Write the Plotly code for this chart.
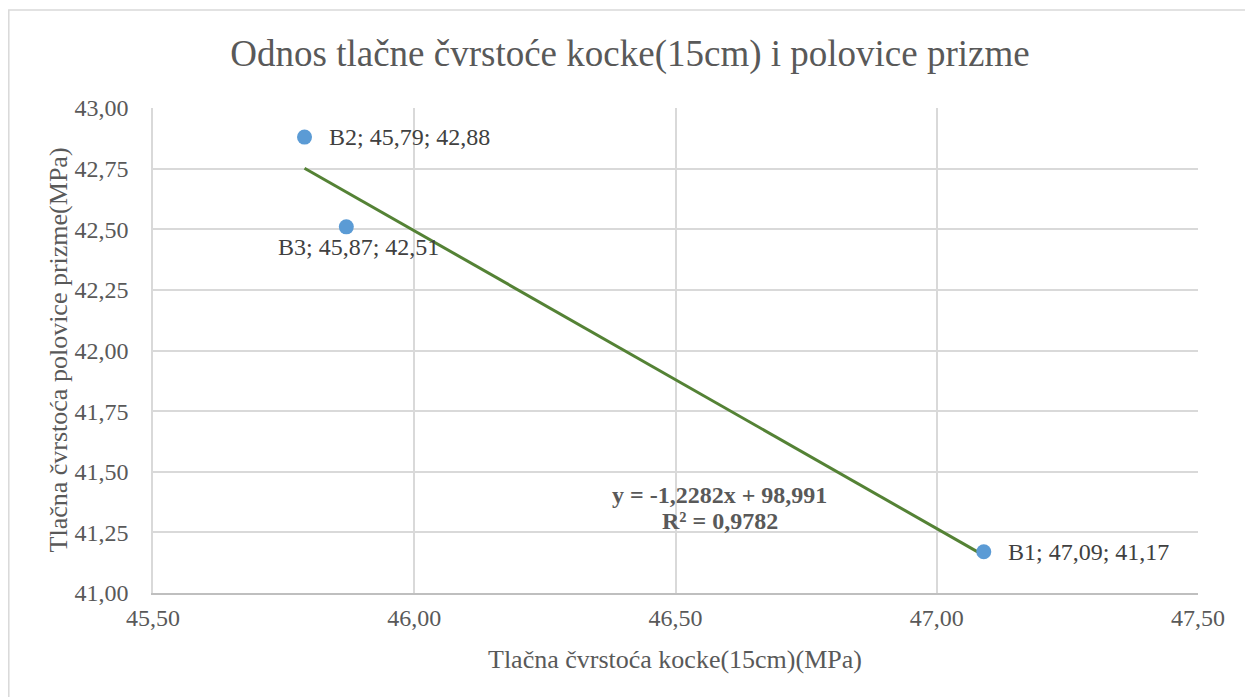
import plotly.graph_objects as go

names = ["B1", "B2", "B3"]
kocka = [47.09, 45.79, 45.87]
prizma = [41.17, 42.88, 42.51]

slope = -1.2282
intercept = 98.991
r2 = 0.9782

x_ticks = [45.5, 46.0, 46.5, 47.0, 47.5]
y_ticks = [41.0, 41.25, 41.5, 41.75, 42.0, 42.25, 42.5, 42.75, 43.0]


def fmt(v, n=2):
    return f"{v:.{n}f}".replace(".", ",")


labels = [f"{n}; {fmt(a)}; {fmt(b)}" for n, a, b in zip(names, kocka, prizma)]
# label placement (anchor, x shift, y shift) like in the Excel chart
label_place = [("left", 22, 0), ("left", 22, 0), ("center", 12, -20)]

font = "Liberation Serif, Times New Roman, serif"
grey = "#595959"

fig = go.Figure()

tx = [min(kocka), max(kocka)]
ty = [slope * v + intercept for v in tx]
fig.add_trace(go.Scatter(x=tx, y=ty, mode="lines",
                         line=dict(color="#548235", width=3),
                         hoverinfo="skip"))

fig.add_trace(go.Scatter(x=kocka, y=prizma, mode="markers",
                         marker=dict(color="#5B9BD5", size=15),
                         text=labels, hoverinfo="text"))

for x, y, lab, (anc, dx, dy) in zip(kocka, prizma, labels, label_place):
    fig.add_annotation(x=x, y=y, xref="x", yref="y", showarrow=False, text=lab,
                       xanchor=anc, yanchor="middle", xshift=dx, yshift=dy,
                       font=dict(family=font, size=24, color="#404040"))

# trendline equation, two lines
eq_lines = [f"y = {fmt(slope, 4)}x + {fmt(intercept, 3)}", f"R² = {fmt(r2, 4)}"]
for txt, yy in zip(eq_lines, [41.404, 41.297]):
    fig.add_annotation(x=46.585, y=yy, xref="x", yref="y", showarrow=False,
                       text=f"<b>{txt}</b>", yanchor="middle",
                       font=dict(family=font, size=24, color=grey))

# axis titles
fig.add_annotation(x=0.4995, y=-0.138, xref="paper", yref="paper", showarrow=False,
                   xanchor="center", yanchor="middle",
                   text="Tlačna čvrstoća kocke(15cm)(MPa)",
                   font=dict(family=font, size=26, color=grey))
fig.add_annotation(x=-0.0905, y=0.501, xref="paper", yref="paper", showarrow=False,
                   xanchor="center", yanchor="middle", textangle=-90,
                   text="Tlačna čvrstoća polovice prizme(MPa)",
                   font=dict(family=font, size=26, color=grey))

# outer chart border
fig.add_shape(type="rect", xref="paper", yref="paper",
              x0=-0.138, x1=1.0517, y0=-0.4, y1=1.202,
              line=dict(color="#D9D9D9", width=1.5))

fig.update_layout(
    width=1253, height=697,
    margin=dict(l=145, r=63, t=100, b=112),
    paper_bgcolor="white", plot_bgcolor="white",
    separators=",.",
    showlegend=False,
    title=dict(text="Odnos tlačne čvrstoće kocke(15cm) i polovice prizme",
               x=0.4964, xanchor="center", y=0.935, yanchor="middle",
               font=dict(family=font, size=37, color=grey)),
    xaxis=dict(range=[45.5, 47.5], tickvals=x_ticks, tickformat=".2f",
               showgrid=True, gridcolor="#D9D9D9", gridwidth=1.5,
               zeroline=False, showline=True, linecolor="#BFBFBF", linewidth=1.5,
               ticks="", ticklabelstandoff=2,
               tickfont=dict(family=font, size=24, color=grey)),
    yaxis=dict(range=[41.0, 43.0], tickvals=y_ticks, tickformat=".2f",
               showgrid=True, gridcolor="#D9D9D9", gridwidth=1.5,
               zeroline=False, showline=True, linecolor="#D9D9D9", linewidth=1.5,
               ticks="", ticklabelstandoff=18,
               tickfont=dict(family=font, size=24, color=grey)),
)

fig.write_html("out.html")
